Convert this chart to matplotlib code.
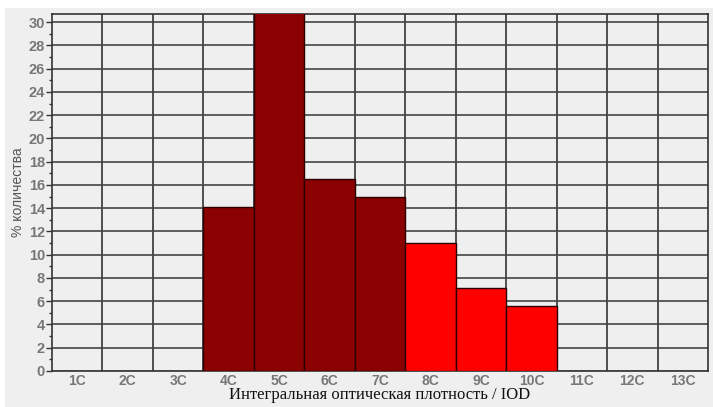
import numpy as np
import matplotlib.pyplot as plt
from matplotlib.patches import Rectangle

categories = ['1C', '2C', '3C', '4C', '5C', '6C', '7C', '8C', '9C', '10C', '11C', '12C', '13C']
values = [0, 0, 0, 14.1, 31.0, 16.5, 15.0, 11.05, 7.1, 5.6, 0, 0, 0]
colors = ['#8b0000'] * 7 + ['#ff0000'] * 3 + ['#8b0000'] * 3

fig = plt.figure(figsize=(7.13, 4.07), dpi=100)
fig.patch.set_facecolor('white')
fig.patches.append(Rectangle((5/713, 0), 1 - 5/713, 1 - 8/407, transform=fig.transFigure,
                             facecolor='#efefef', edgecolor='none', zorder=-10))

ax = fig.add_axes([52/713, 36/407, 656/713, 357/407])
ax.set_facecolor('#efefef')

x = np.arange(len(categories))
ax.bar(x, values, width=1.0, color=colors, edgecolor='#2a0000', linewidth=1.0, zorder=3)

ax.set_xlim(-0.5, len(categories) - 0.5)
ax.set_ylim(0, 30.7)

# grid: vertical lines at category boundaries, horizontal every 2
for b in np.arange(0.5, len(categories) - 0.5, 1):
    ax.axvline(b, color='#333333', lw=1.2, zorder=1)
for yv in range(2, 31, 2):
    ax.axhline(yv, color='#444444', lw=1.2, zorder=1)

ax.set_xticks(x)
ax.set_xticklabels(categories)
ax.set_yticks(range(0, 31, 2))
ax.set_yticks(range(1, 31, 2), minor=True)
ax.tick_params(axis='x', length=0, pad=2, labelsize=10, labelcolor='#777777')
ax.tick_params(axis='y', which='major', length=4, width=1, color='#333333',
               labelsize=10.5, labelcolor='#777777', pad=1)
ax.tick_params(axis='y', which='minor', length=2, width=1, color='#333333')
for lbl in ax.get_xticklabels() + ax.get_yticklabels():
    lbl.set_family('Liberation Sans')
    lbl.set_fontweight('bold')

for s in ax.spines.values():
    s.set_color('#333333')
    s.set_linewidth(1.2)

ax.set_ylabel('% количества', family='Liberation Sans', fontsize=10, color='#555555', labelpad=3)
ax.set_xlabel('Интегральная оптическая плотность / IOD', family='Liberation Serif',
              fontsize=12, color='#111111')
ax.xaxis.set_label_coords(0.5, -0.046)

plt.savefig('out.png', dpi=100)
